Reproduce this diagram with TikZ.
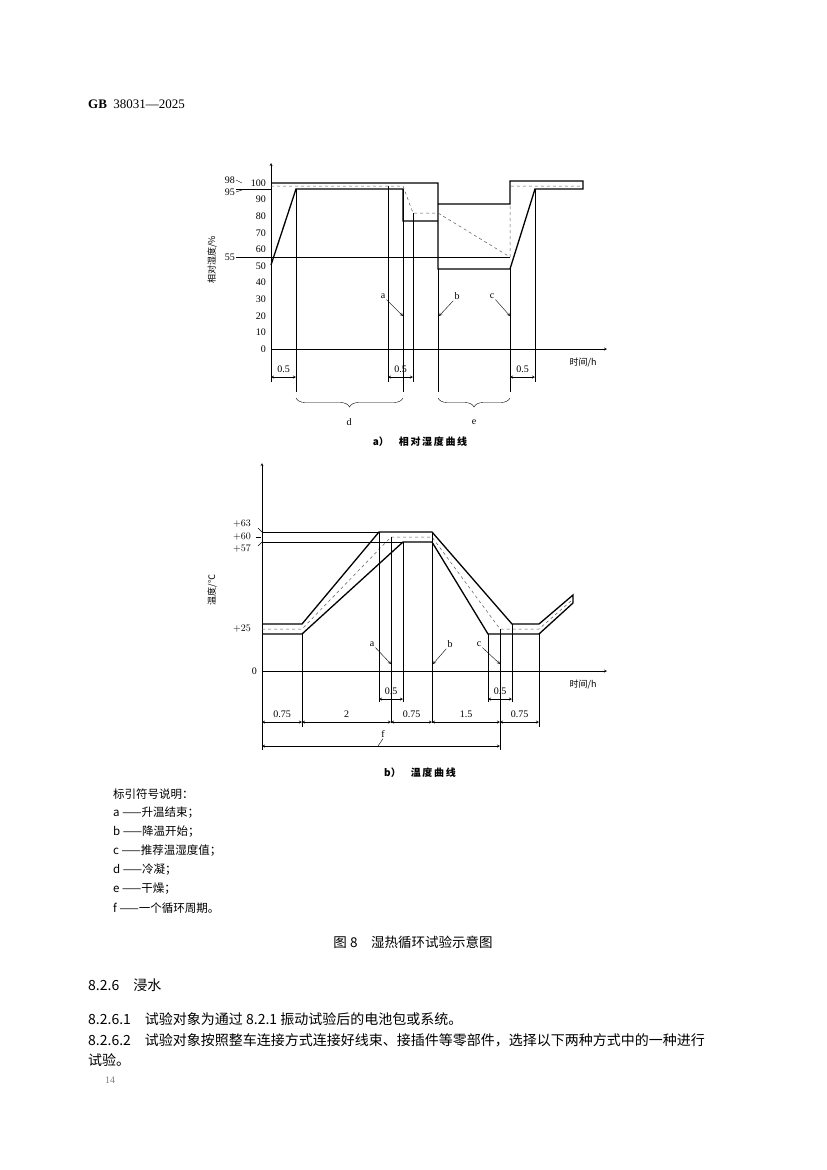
\documentclass[tikz,border=0pt]{standalone}
\usepackage{fontspec}
\setmainfont{Liberation Serif}
\newfontfamily\cjk{Noto Sans CJK SC}
\usetikzlibrary{decorations.pathreplacing}
\tikzset{
  thickline/.style={line width=1.3pt},
  thinline/.style={line width=0.4pt},
  dashline/.style={dashed, line width=0.5pt, gray!70!black},
  dimarrow/.style={line width=0.4pt, stealth-stealth},
  lbl/.style={font=\fontsize{10}{11}\selectfont, inner sep=1pt},
  cjklbl/.style={font=\cjk\fontsize{9}{10}\selectfont, inner sep=1pt},
  bodytext/.style={font=\cjk\fontsize{14}{16}\selectfont, anchor=west, inner sep=0pt},
  legendtext/.style={font=\cjk\fontsize{11.5}{13}\selectfont, anchor=west, inner sep=0pt},
  bracedown/.style={decorate, decoration={brace, amplitude=9pt, mirror}}
}
\begin{document}
\begin{tikzpicture}[x=1pt,y=-1pt]
  \useasboundingbox (0,0) rectangle (827,1170);
  \fill[white] (0,0) rectangle (827,1170);
  % Header
  \node[anchor=west, font=\bfseries\fontsize{13}{15}\selectfont, inner sep=0pt] (hdr) at (88,104) {GB\ \ {\mdseries 38031—2025}};

  % ---------- a) relative humidity ----------
  \draw[thinline, -stealth] (271,382) -- (271,163);
  \draw[thinline, -stealth] (271,349) -- (607,349);
  \foreach \v in {0,10,...,100}
    \node[lbl, anchor=east] (rh\v) at (267,{349-1.66*\v}) {\v};
  \node[lbl, anchor=east] (rh98) at (236,180) {98};
  \node[lbl, anchor=east] (rh95) at (236,192) {95};
  \draw[thinline] (rh98.east) -- ++(6,3);
  \draw[thinline] (rh95.east) -- ++(6,-2);
  \node[lbl, anchor=east] (rh55) at (236,257) {55};
  \draw[thinline] (rh55.east) -- (510,257);
  \draw[thinline] (236,189) -- (271,189);
  \node[cjklbl, rotate=90] (rhaxis) at (212,260) {相对湿度/\%};
  \node[cjklbl] (tha) at (583,363) {时间/h};
  % humidity band
  \draw[thickline] (271,183) -- (438,183) -- (438,269) -- (510,269) -- (535,189) -- (583,189) -- (583,181) -- (510,181) -- (510,204) -- (438,204);
  \draw[thickline] (271,265) -- (296,189) -- (403,189) -- (403,221) -- (438,221);
  \draw[dashline] (271,186) -- (403,186) -- (413,213) -- (438,213) -- (510,257) -- (510,186) -- (583,186);
  % guide lines
  \draw[thinline] (296,189) -- (296,392);
  \draw[thinline] (388,186) -- (388,382);
  \draw[thinline] (403,189) -- (403,392);
  \draw[thinline] (413,213) -- (413,382);
  \draw[thinline] (438,269) -- (438,392);
  \draw[thinline] (510,269) -- (510,392);
  \draw[thinline] (535,189) -- (535,382);
  \draw[dimarrow] (271,377) -- (296,377) node[lbl, midway, above=3pt] (wa1) {0.5};
  \draw[dimarrow] (388,377) -- (413,377) node[lbl, midway, above=3pt] (wa2) {0.5};
  \draw[dimarrow] (510,377) -- (535,377) node[lbl, midway, above=3pt] (wa3) {0.5};
  \node[lbl] (ha) at (383,296) {a};
  \node[lbl] (hb) at (457,296) {b};
  \node[lbl] (hc) at (492,296) {c};
  \draw[thinline, -stealth] (ha.south east) -- (403,316);
  \draw[thinline, -stealth] (hb.south west) -- (439,316);
  \draw[thinline, -stealth] (hc.south east) -- (510,316);
  \draw[thinline, bracedown] (296,398) -- (403,398);
  \draw[thinline, bracedown] (438,398) -- (510,398);
  \node[lbl] (hd) at (349,422) {d};
  \node[lbl] (he) at (474,422) {e};
  \node[cjklbl, font=\cjk\bfseries\fontsize{10}{11}\selectfont] (capa) at (420,442) {a）\quad 相\,对\,湿\,度\,曲\,线};

  % ---------- b) temperature ----------
  \draw[thinline, -stealth] (262,750) -- (262,463);
  \draw[thinline, -stealth] (262,671) -- (607,671);
  \node[lbl, anchor=east] (t63) at (252,524) {$+63$};
  \node[lbl, anchor=east] (t60) at (252,537) {$+60$};
  \node[lbl, anchor=east] (t57) at (252,549) {$+57$};
  \node[lbl, anchor=east] (t25) at (252,629) {$+25$};
  \node[lbl, anchor=east] (t0) at (258,671) {0};
  \draw[thinline] (258,528) -- (262,532);
  \draw[thinline] (256,537) -- (261,537);
  \draw[thinline] (258,546) -- (262,542);
  \draw[thinline] (262,532) -- (379,532);
  \draw[thinline] (262,542) -- (403,542);
  \node[cjklbl, rotate=90] (taxis) at (212,590) {温度/℃};
  \node[cjklbl] (thb) at (583,685) {时间/h};
  % temperature band
  \draw[thickline] (262,624) -- (302,624) -- (379,532) -- (432,532) -- (512,624) -- (539,624) -- (573,595) -- (573,603) -- (539,634) -- (488,634) -- (432,542) -- (403,542) -- (302,634) -- (262,634);
  \draw[dashline] (262,629) -- (302,629) -- (391,537) -- (432,537) -- (500,629) -- (539,629) -- (571,601);
  % guide lines
  \draw[thinline] (379,532) -- (379,702);
  \draw[thinline] (391,537) -- (391,723);
  \draw[thinline] (403,542) -- (403,702);
  \draw[thinline] (432,532) -- (432,723);
  \draw[thinline] (488,634) -- (488,702);
  \draw[thinline] (500,629) -- (500,750);
  \draw[thinline] (512,624) -- (512,702);
  \draw[thinline] (539,634) -- (539,727);
  \draw[thinline] (302,634) -- (302,727);
  \draw[dimarrow] (379,699) -- (403,699) node[lbl, midway, above=3pt] (tb1) {0.5};
  \draw[dimarrow] (488,699) -- (512,699) node[lbl, midway, above=3pt] (tb2) {0.5};
  \draw[dimarrow] (262,722) -- (302,722) node[lbl, midway, above=3pt] (tp1) {0.75};
  \draw[dimarrow] (302,722) -- (391,722) node[lbl, midway, above=3pt] (tp2) {2};
  \draw[dimarrow] (391,722) -- (432,722) node[lbl, midway, above=3pt] (tp3) {0.75};
  \draw[dimarrow] (432,722) -- (500,722) node[lbl, midway, above=3pt] (tp4) {1.5};
  \draw[dimarrow] (500,722) -- (539,722) node[lbl, midway, above=3pt] (tp5) {0.75};
  \draw[dimarrow] (262,746) -- (500,746);
  \node[lbl] (tf) at (383,734) {f};
  \draw[thinline] (tf.south) -- (378,746);
  \node[lbl] (ta) at (372,644) {a};
  \node[lbl] (tb) at (450,644) {b};
  \node[lbl] (tc) at (479,644) {c};
  \draw[thinline, -stealth] (ta.south east) -- (391,664);
  \draw[thinline, -stealth] (tb.south west) -- (433,664);
  \draw[thinline, -stealth] (tc.south east) -- (500,664);
  \node[cjklbl, font=\cjk\bfseries\fontsize{10}{11}\selectfont] (capb) at (420,773) {b）\quad 温\,度\,曲\,线};

  % ---------- legend and body text ----------
  \node[legendtext] (lg0) at (113,794) {标引符号说明：};
  \node[legendtext] (lg1) at (113,813) {a ——升温结束；};
  \node[legendtext] (lg2) at (113,832) {b ——降温开始；};
  \node[legendtext] (lg3) at (113,851) {c ——推荐温湿度值；};
  \node[legendtext] (lg4) at (113,870) {d ——冷凝；};
  \node[legendtext] (lg5) at (113,889) {e ——干燥；};
  \node[legendtext] (lg6) at (113,908) {f ——一个循环周期。};
  \node[font=\cjk\fontsize{13.5}{15}\selectfont, inner sep=0pt] (fig8) at (413,942) {图 8\quad 湿热循环试验示意图};
  \node[bodytext] (s826) at (88,985) {8.2.6\quad 浸水};
  \node[bodytext] (s8261) at (88,1019) {8.2.6.1\quad 试验对象为通过 8.2.1 振动试验后的电池包或系统。};
  \node[bodytext] (s8262) at (88,1040) {8.2.6.2\quad 试验对象按照整车连接方式连接好线束、接插件等零部件，选择以下两种方式中的一种进行};
  \node[bodytext] (s8262b) at (88,1060) {试验。};
  \node[font=\fontsize{10}{12}\selectfont, anchor=west, inner sep=0pt, gray] (pg) at (105,1080) {14};
\end{tikzpicture}
\end{document}
